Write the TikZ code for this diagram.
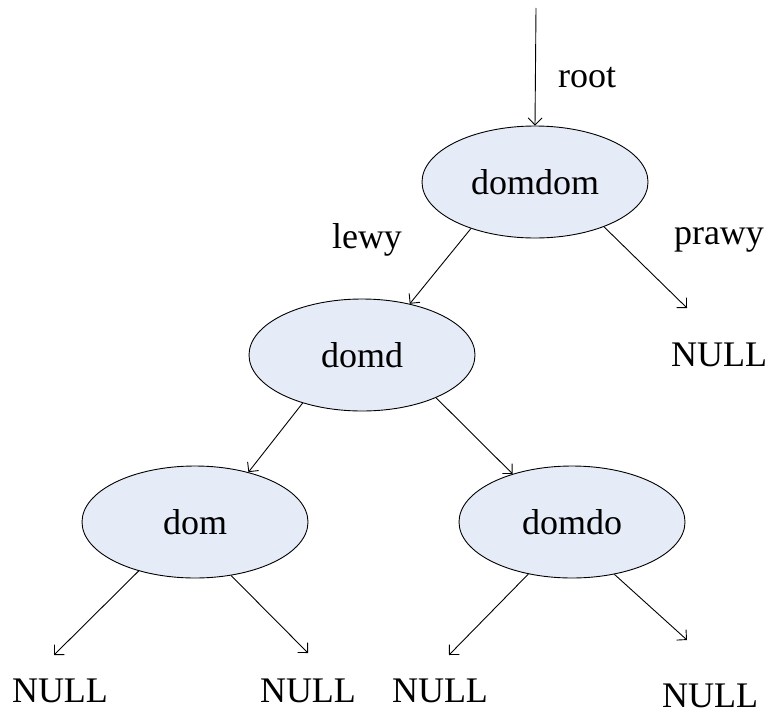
\documentclass[tikz,border=0pt]{standalone}
\usepackage{fontspec}
\setmainfont{Liberation Serif}
\usetikzlibrary{arrows.meta,shapes.geometric}

\definecolor{nodefill}{RGB}{230,236,247}

\tikzset{
  wezel/.style={ellipse, draw, fill=nodefill, line width=0.9pt,
    minimum width=226pt, minimum height=112pt, inner sep=0pt},
  etykieta/.style={inner sep=0pt},
  wsk/.style={line width=0.9pt, -{Straight Barb[length=7pt,width=14pt]}}
}

\begin{document}
\begin{tikzpicture}[x=1pt,y=-1pt]
	\fontsize{36}{40}\selectfont
	\useasboundingbox (0,0) rectangle (776,715);
	\node [wezel] (domdom) at (535,182) {domdom};
	\node [wezel] (domd) at (362,355) {domd};
	\node [wezel] (dom) at (195,522) {dom};
	\node [wezel] (domdo) at (572,522) {domdo};
	\node [etykieta] (root) at (587,78) {root};
	\node [etykieta] (lewy) at (367,240) {lewy};
	\node [etykieta] (prawy) at (719,240) {prawy};
	\node [etykieta] (null1) at (719,355) {NULL};
	\node [etykieta] (null2) at (60,691) {NULL};
	\node [etykieta] (null3) at (308,691) {NULL};
	\node [etykieta] (null4) at (440,691) {NULL};
	\node [etykieta] (null5) at (710,696) {NULL};
	\coordinate (top) at (536,8);
	\coordinate (k1) at (687,308);
	\coordinate (k2) at (54,655);
	\coordinate (k3) at (308,653);
	\coordinate (k4) at (449,655);
	\coordinate (k5) at (687,640);
	\draw [wsk] (top) -- (domdom.north);
	\draw [wsk] (domdom.216) -- (domd.47);
	\draw [wsk] (domdom.327) -- (k1);
	\draw [wsk] (domd.219) -- (dom.43);
	\draw [wsk] (domd.330) -- (domdo.141);
	\draw [wsk] (dom.221) -- (k2);
	\draw [wsk] (dom.304) -- (k3);
	\draw [wsk] (domdo.230) -- (k4);
	\draw [wsk] (domdo.309) -- (k5);
\end{tikzpicture}
\end{document}
